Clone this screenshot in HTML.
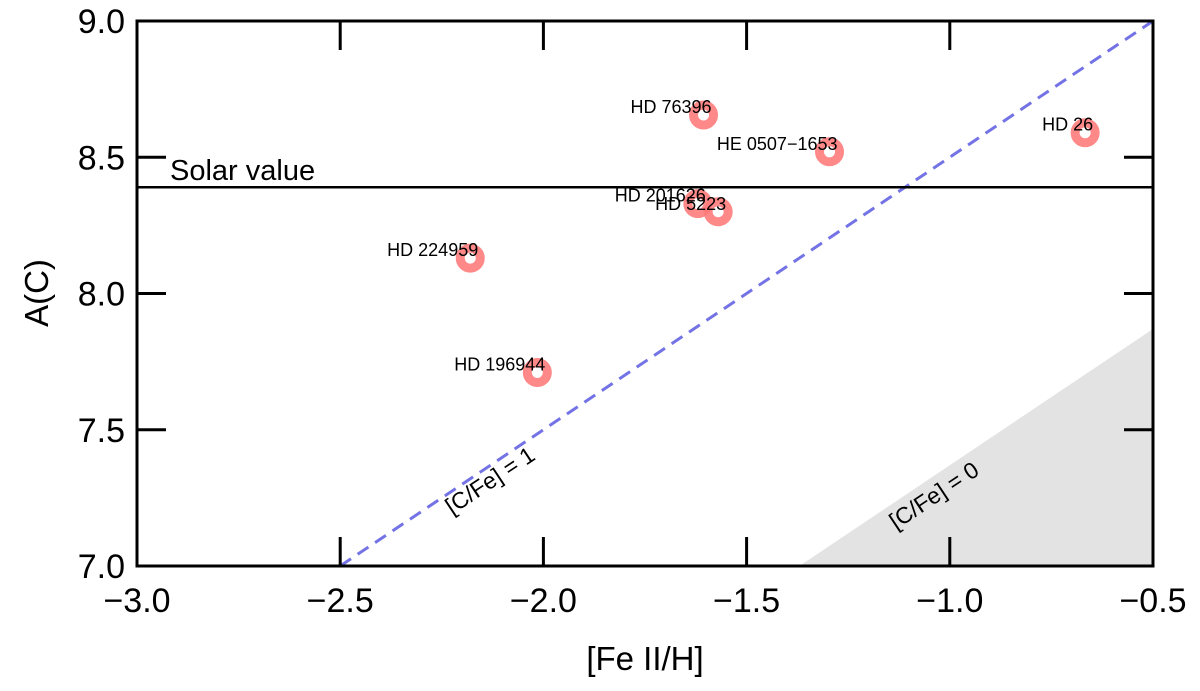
<!DOCTYPE html>
<html><head><meta charset="utf-8"><style>
body{margin:0;background:#fff;}
svg text{font-family:"Liberation Sans","DejaVu Sans",sans-serif;}
</style></head><body>
<svg id="chart" width="1200" height="686" viewBox="0 0 1200 686">
<g id="plot"></g>
</svg>
<script>
const starNames=["HD 26","HD 76396","HE 0507\u22121653","HD 201626","HD 5223","HD 224959","HD 196944"];
const feH=[-0.667,-1.606,-1.296,-1.62,-1.57,-2.18,-2.015];
const aC=[8.59,8.655,8.52,8.33,8.30,8.13,7.71];
const xTicks=[-3.0,-2.5,-2.0,-1.5,-1.0,-0.5];
const yTicks=[7.0,7.5,8.0,8.5,9.0];
const solarValue=8.39;
const cfe1Offset=9.5;
const cfe0Offset=8.37;

const L=137,R=1153,T=21,B=566;
const xs=v=>L+(v+3)/2.5*(R-L);
const ys=v=>B-(v-7)/2*(B-T);
const NS="http://www.w3.org/2000/svg";
const g=document.getElementById('plot');
function mk(t,a,txt){const e=document.createElementNS(NS,t);for(const k in a)e.setAttribute(k,a[k]);if(txt!==undefined)e.textContent=txt;g.appendChild(e);return e;}

const x0=7-cfe0Offset;
let gr=mk('polygon',{points:`${xs(x0)},${ys(7)} ${xs(-0.5)},${ys(-0.5+cfe0Offset)} ${xs(-0.5)},${ys(7)}`,fill:'#e3e3e3'});


let dl=mk('line',{x1:xs(7-cfe1Offset),y1:ys(7),x2:xs(-0.5),y2:ys(-0.5+cfe1Offset),stroke:'#7373e6','stroke-width':3,'stroke-dasharray':'13,8'});


let sl=mk('line',{x1:L,y1:ys(solarValue),x2:R,y2:ys(solarValue),stroke:'#000','stroke-width':2.5});


let st=mk('text',{x:170,y:ys(solarValue)-7,'font-size':29},'Solar value');


let l1=mk('text',{x:0,y:0,'font-size':23,transform:'translate(452,515) rotate(-33.6)'},'[C/Fe] = 1');


let l0=mk('text',{x:0,y:0,'font-size':23,transform:'translate(896,530) rotate(-33.6)'},'[C/Fe] = 0');



let fr=mk('rect',{x:L,y:T,width:R-L,height:B-T,fill:'none',stroke:'#000','stroke-width':3});


xTicks.forEach(v=>{
  const x=xs(v);
  mk('line',{x1:x,y1:B,x2:x,y2:B-29,stroke:'#000','stroke-width':3});
  mk('line',{x1:x,y1:T,x2:x,y2:T+29,stroke:'#000','stroke-width':3});
  let t=mk('text',{x:x,y:B+46,'font-size':34,'text-anchor':'middle'},v.toFixed(1).replace('-','\u2212'));
  
  
});
yTicks.forEach(v=>{
  const y=ys(v);
  mk('line',{x1:L,y1:y,x2:L+29,y2:y,stroke:'#000','stroke-width':3});
  mk('line',{x1:R,y1:y,x2:R-29,y2:y,stroke:'#000','stroke-width':3});
  let t=mk('text',{x:L-12,y:y+12,'font-size':34,'text-anchor':'end'},v.toFixed(1));
  
  
});
let xt=mk('text',{x:645,y:670,'font-size':33,'text-anchor':'middle'},'[Fe II/H]');


let yt=mk('text',{x:0,y:0,'font-size':33,'text-anchor':'middle',transform:'translate(48,293) rotate(-90)'},'A(C)');



starNames.forEach((n,i)=>{
  const x=xs(feH[i]),y=ys(aC[i]);
  let c=mk('circle',{cx:x,cy:y,r:10,fill:'none',stroke:'#ff7b7b','stroke-width':9,opacity:0.9});
  
  
  let t=mk('text',{x:x+8,y:y-2,'font-size':18,'text-anchor':'end'},n);
  
  
});
</script>
</body></html>
